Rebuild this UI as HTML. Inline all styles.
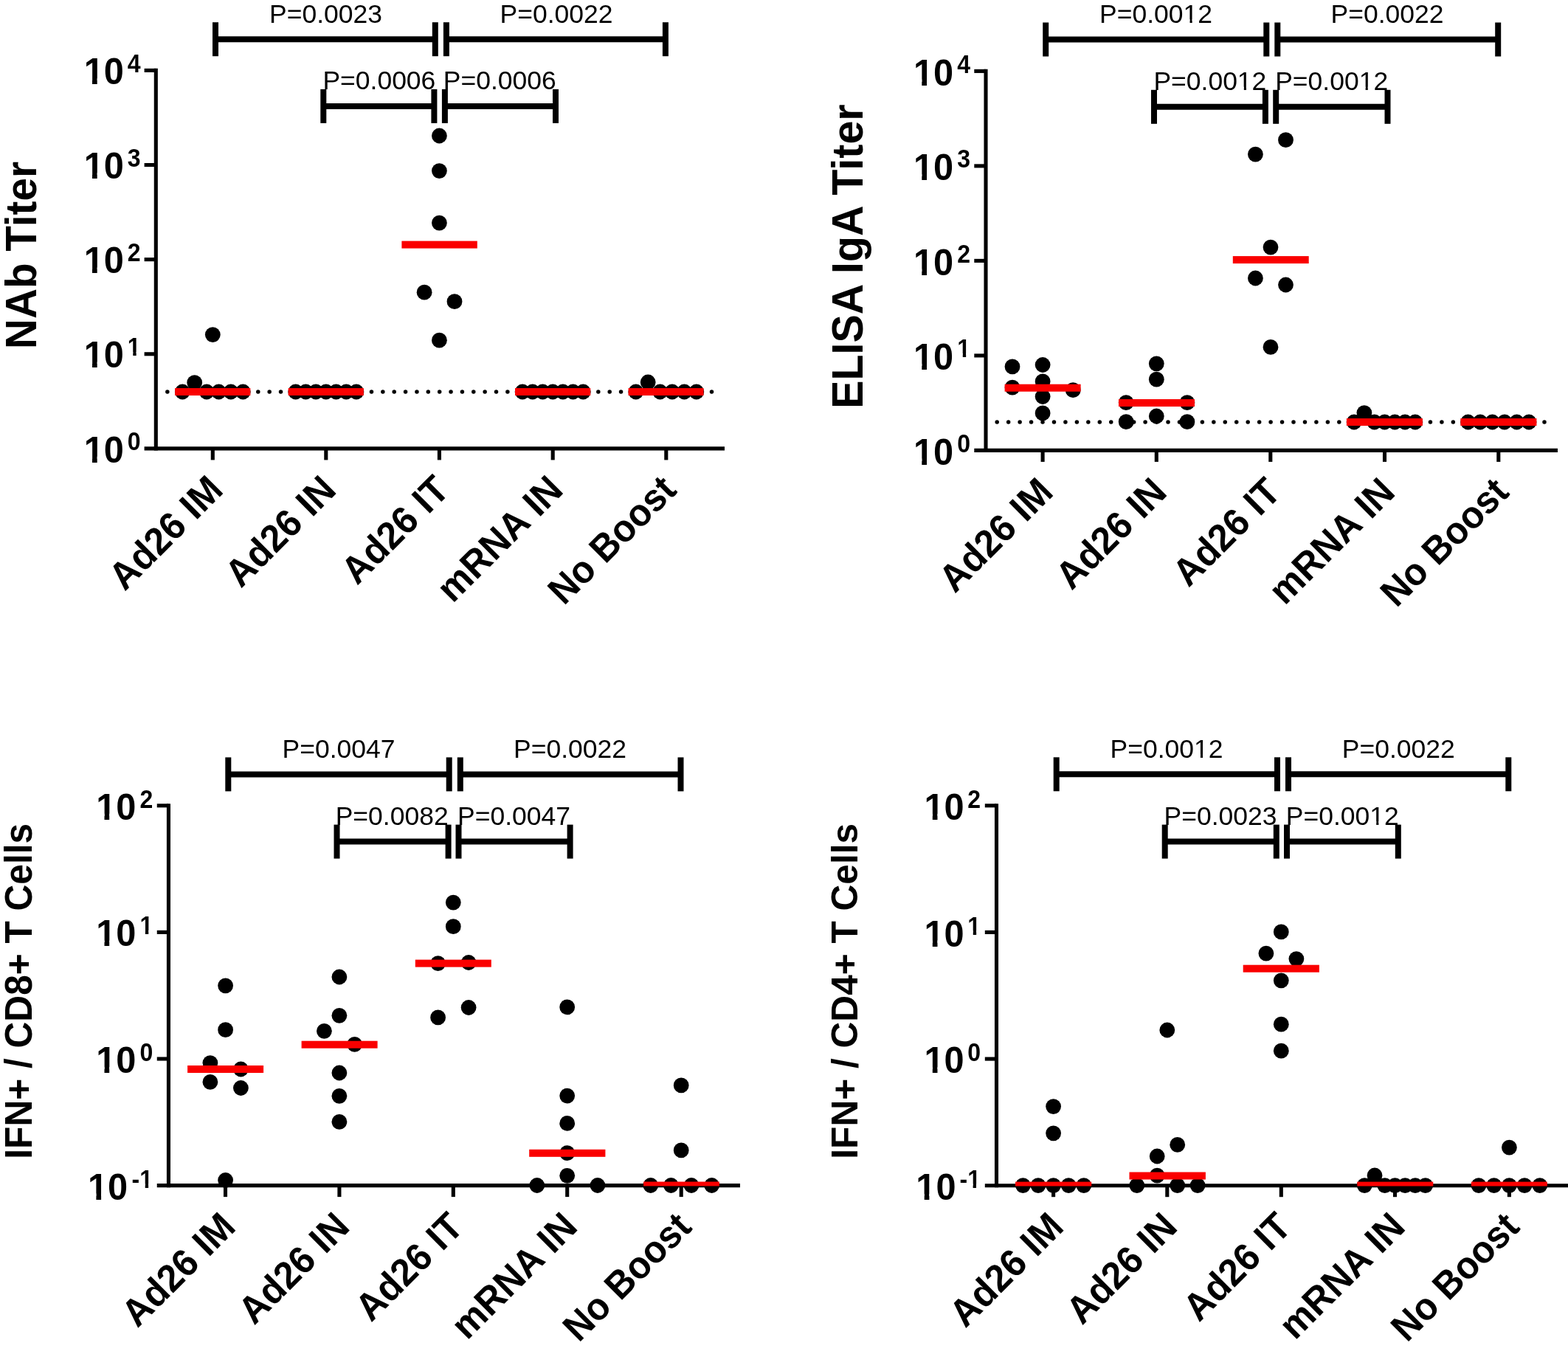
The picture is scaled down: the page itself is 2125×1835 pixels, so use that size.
<!DOCTYPE html>
<html lang="en">
<head>
<meta charset="utf-8">
<title>Figure</title>
<style>
html,body{margin:0;padding:0;background:#fff;}
body{width:2125px;height:1835px;overflow:hidden;}
svg{display:block;}
svg text{font-family:"Liberation Sans",sans-serif;fill:#000;}
</style>
</head>
<body>
<svg width="2125" height="1835" viewBox="0 0 2125 1835">
<rect width="2125" height="1835" fill="#fff"/>
<defs>
<clipPath id="c10"><path clip-rule="evenodd" d="M-584.4,-584.4H584.4V584.4H-584.4ZM-53.24,-7.59H-42.80V2.85H-53.24ZM-36.12,-7.59H-27.49V2.85H-36.12Z"/></clipPath>
<clipPath id="cs1"><path clip-rule="evenodd" d="M-384.0,-384.0H384.0V384.0H-384.0ZM0.61,-4.98H7.47V1.88H0.61ZM11.86,-4.98H17.53V1.88H11.86Z"/></clipPath>
<clipPath id="csm1"><path clip-rule="evenodd" d="M-384.0,-384.0H384.0V384.0H-384.0ZM11.27,-4.98H18.12V1.88H11.27ZM22.52,-4.98H28.19V1.88H22.52Z"/></clipPath>
<clipPath id="cp"><path clip-rule="evenodd" d="M-426.0,-426.0H426.0V426.0H-426.0ZM114.65,-4.56H122.43V2.08H114.65ZM125.57,-4.56H132.21V2.08H125.57Z"/></clipPath>
</defs>
<g>
<line x1="226.85" y1="531.00" x2="965.50" y2="531.00" stroke="#000" stroke-width="5.5" stroke-linecap="round" stroke-dasharray="0 15.3677"/>
<line x1="211.30" y1="92.85" x2="211.30" y2="610.45" stroke="#000" stroke-width="5.1"/>
<line x1="195.60" y1="607.90" x2="982.00" y2="607.90" stroke="#000" stroke-width="5.1"/>
<line x1="195.60" y1="95.40" x2="211.30" y2="95.40" stroke="#000" stroke-width="5.1"/>
<text transform="translate(167.80 114.10) scale(1.0000 1.0420)" font-size="48.7" font-weight="bold" text-anchor="end" clip-path="url(#c10)">10</text>
<text transform="translate(172.80 97.90) scale(1.0000 1.0740)" font-size="32" font-weight="bold">4</text>
<line x1="195.60" y1="223.53" x2="211.30" y2="223.53" stroke="#000" stroke-width="5.1"/>
<text transform="translate(167.80 242.22) scale(1.0000 1.0420)" font-size="48.7" font-weight="bold" text-anchor="end" clip-path="url(#c10)">10</text>
<text transform="translate(172.80 226.03) scale(1.0000 1.0740)" font-size="32" font-weight="bold">3</text>
<line x1="195.60" y1="351.65" x2="211.30" y2="351.65" stroke="#000" stroke-width="5.1"/>
<text transform="translate(167.80 370.35) scale(1.0000 1.0420)" font-size="48.7" font-weight="bold" text-anchor="end" clip-path="url(#c10)">10</text>
<text transform="translate(172.80 354.15) scale(1.0000 1.0740)" font-size="32" font-weight="bold">2</text>
<line x1="195.60" y1="479.77" x2="211.30" y2="479.77" stroke="#000" stroke-width="5.1"/>
<text transform="translate(167.80 498.47) scale(1.0000 1.0420)" font-size="48.7" font-weight="bold" text-anchor="end" clip-path="url(#c10)">10</text>
<text transform="translate(172.80 482.27) scale(1.0000 1.0740)" font-size="32" font-weight="bold" clip-path="url(#cs1)">1</text>
<text transform="translate(167.80 626.60) scale(1.0000 1.0420)" font-size="48.7" font-weight="bold" text-anchor="end" clip-path="url(#c10)">10</text>
<text transform="translate(172.80 610.40) scale(1.0000 1.0740)" font-size="32" font-weight="bold">0</text>
<line x1="288.30" y1="607.90" x2="288.30" y2="623.40" stroke="#000" stroke-width="5.1"/>
<line x1="441.80" y1="607.90" x2="441.80" y2="623.40" stroke="#000" stroke-width="5.1"/>
<line x1="595.40" y1="607.90" x2="595.40" y2="623.40" stroke="#000" stroke-width="5.1"/>
<line x1="749.20" y1="607.90" x2="749.20" y2="623.40" stroke="#000" stroke-width="5.1"/>
<line x1="902.80" y1="607.90" x2="902.80" y2="623.40" stroke="#000" stroke-width="5.1"/>
<circle cx="247.30" cy="531.00" r="10.4"/>
<circle cx="263.70" cy="518.60" r="10.4"/>
<circle cx="280.10" cy="531.00" r="10.4"/>
<circle cx="296.50" cy="531.00" r="10.4"/>
<circle cx="312.90" cy="531.00" r="10.4"/>
<circle cx="329.30" cy="531.00" r="10.4"/>
<circle cx="288.30" cy="453.60" r="10.4"/>
<circle cx="400.70" cy="531.00" r="10.4"/>
<circle cx="414.40" cy="531.00" r="10.4"/>
<circle cx="428.10" cy="531.00" r="10.4"/>
<circle cx="441.80" cy="531.00" r="10.4"/>
<circle cx="455.50" cy="531.00" r="10.4"/>
<circle cx="469.20" cy="531.00" r="10.4"/>
<circle cx="482.90" cy="531.00" r="10.4"/>
<circle cx="595.40" cy="184.00" r="10.4"/>
<circle cx="595.40" cy="231.60" r="10.4"/>
<circle cx="595.40" cy="302.10" r="10.4"/>
<circle cx="575.10" cy="396.20" r="10.4"/>
<circle cx="616.00" cy="408.70" r="10.4"/>
<circle cx="595.40" cy="461.20" r="10.4"/>
<circle cx="708.10" cy="531.00" r="10.4"/>
<circle cx="721.80" cy="531.00" r="10.4"/>
<circle cx="735.50" cy="531.00" r="10.4"/>
<circle cx="749.20" cy="531.00" r="10.4"/>
<circle cx="762.90" cy="531.00" r="10.4"/>
<circle cx="776.60" cy="531.00" r="10.4"/>
<circle cx="790.30" cy="531.00" r="10.4"/>
<circle cx="861.80" cy="531.00" r="10.4"/>
<circle cx="878.20" cy="518.00" r="10.4"/>
<circle cx="894.60" cy="531.00" r="10.4"/>
<circle cx="911.00" cy="531.00" r="10.4"/>
<circle cx="927.40" cy="531.00" r="10.4"/>
<circle cx="943.80" cy="531.00" r="10.4"/>
<rect x="237.10" y="526.00" width="102.20" height="10.00" fill="#fa0000"/>
<rect x="390.70" y="526.00" width="102.10" height="10.00" fill="#fa0000"/>
<rect x="544.40" y="326.60" width="102.40" height="10.00" fill="#fa0000"/>
<rect x="698.00" y="526.00" width="102.20" height="10.00" fill="#fa0000"/>
<rect x="851.60" y="526.00" width="101.90" height="10.00" fill="#fa0000"/>
<line x1="292.00" y1="53.20" x2="589.80" y2="53.20" stroke="#000" stroke-width="8"/>
<line x1="292.00" y1="30.20" x2="292.00" y2="76.20" stroke="#000" stroke-width="8"/>
<line x1="589.80" y1="30.20" x2="589.80" y2="76.20" stroke="#000" stroke-width="8"/>
<line x1="604.90" y1="53.20" x2="901.90" y2="53.20" stroke="#000" stroke-width="8"/>
<line x1="604.90" y1="30.20" x2="604.90" y2="76.20" stroke="#000" stroke-width="8"/>
<line x1="901.90" y1="30.20" x2="901.90" y2="76.20" stroke="#000" stroke-width="8"/>
<line x1="438.30" y1="143.90" x2="588.40" y2="143.90" stroke="#000" stroke-width="8"/>
<line x1="438.30" y1="120.90" x2="438.30" y2="166.90" stroke="#000" stroke-width="8"/>
<line x1="588.40" y1="120.90" x2="588.40" y2="166.90" stroke="#000" stroke-width="8"/>
<line x1="602.90" y1="143.90" x2="753.00" y2="143.90" stroke="#000" stroke-width="8"/>
<line x1="602.90" y1="120.90" x2="602.90" y2="166.90" stroke="#000" stroke-width="8"/>
<line x1="753.00" y1="120.90" x2="753.00" y2="166.90" stroke="#000" stroke-width="8"/>
<text transform="translate(365.00 30.50) scale(1.0000 1.0050)" font-size="35.5">P=0.0023</text>
<text transform="translate(677.50 30.50) scale(1.0000 1.0050)" font-size="35.5">P=0.0022</text>
<text transform="translate(437.40 121.40) scale(1.0000 1.0050)" font-size="35.5">P=0.0006</text>
<text transform="translate(600.80 121.40) scale(1.0000 1.0050)" font-size="35.5">P=0.0006</text>
<text transform="translate(304.60 666.60) rotate(-45) scale(1.0000 1.0400)" font-size="50" font-weight="bold" text-anchor="end">Ad26 IM</text>
<text transform="translate(458.10 666.60) rotate(-45) scale(1.0000 1.0400)" font-size="50" font-weight="bold" text-anchor="end">Ad26 IN</text>
<text transform="translate(611.70 666.60) rotate(-45) scale(1.0000 1.0400)" font-size="50" font-weight="bold" text-anchor="end">Ad26 IT</text>
<text transform="translate(765.50 666.60) rotate(-45) scale(1.0000 1.0400)" font-size="50" font-weight="bold" text-anchor="end">mRNA IN</text>
<text transform="translate(919.10 666.60) rotate(-45) scale(0.9860 1.0400)" font-size="50" font-weight="bold" text-anchor="end">No Boost</text>
<text transform="translate(48.80 346.00) rotate(-90) scale(0.9940 1.0390)" font-size="57" font-weight="bold" text-anchor="middle">NAb Titer</text>
</g>
<g>
<line x1="1351.20" y1="572.00" x2="2094.00" y2="572.00" stroke="#000" stroke-width="5.5" stroke-linecap="round" stroke-dasharray="0 15.4542"/>
<line x1="1336.00" y1="93.85" x2="1336.00" y2="612.95" stroke="#000" stroke-width="5.1"/>
<line x1="1320.30" y1="610.40" x2="2111.00" y2="610.40" stroke="#000" stroke-width="5.1"/>
<line x1="1320.30" y1="96.40" x2="1336.00" y2="96.40" stroke="#000" stroke-width="5.1"/>
<text transform="translate(1292.10 115.50) scale(1.0000 1.0420)" font-size="48.7" font-weight="bold" text-anchor="end" clip-path="url(#c10)">10</text>
<text transform="translate(1297.30 98.80) scale(1.0000 1.0740)" font-size="32" font-weight="bold">4</text>
<line x1="1320.30" y1="224.90" x2="1336.00" y2="224.90" stroke="#000" stroke-width="5.1"/>
<text transform="translate(1292.10 244.00) scale(1.0000 1.0420)" font-size="48.7" font-weight="bold" text-anchor="end" clip-path="url(#c10)">10</text>
<text transform="translate(1297.30 227.30) scale(1.0000 1.0740)" font-size="32" font-weight="bold">3</text>
<line x1="1320.30" y1="353.40" x2="1336.00" y2="353.40" stroke="#000" stroke-width="5.1"/>
<text transform="translate(1292.10 372.50) scale(1.0000 1.0420)" font-size="48.7" font-weight="bold" text-anchor="end" clip-path="url(#c10)">10</text>
<text transform="translate(1297.30 355.80) scale(1.0000 1.0740)" font-size="32" font-weight="bold">2</text>
<line x1="1320.30" y1="481.90" x2="1336.00" y2="481.90" stroke="#000" stroke-width="5.1"/>
<text transform="translate(1292.10 501.00) scale(1.0000 1.0420)" font-size="48.7" font-weight="bold" text-anchor="end" clip-path="url(#c10)">10</text>
<text transform="translate(1297.30 484.30) scale(1.0000 1.0740)" font-size="32" font-weight="bold" clip-path="url(#cs1)">1</text>
<text transform="translate(1292.10 629.50) scale(1.0000 1.0420)" font-size="48.7" font-weight="bold" text-anchor="end" clip-path="url(#c10)">10</text>
<text transform="translate(1297.30 612.80) scale(1.0000 1.0740)" font-size="32" font-weight="bold">0</text>
<line x1="1413.10" y1="610.40" x2="1413.10" y2="625.90" stroke="#000" stroke-width="5.1"/>
<line x1="1567.30" y1="610.40" x2="1567.30" y2="625.90" stroke="#000" stroke-width="5.1"/>
<line x1="1721.80" y1="610.40" x2="1721.80" y2="625.90" stroke="#000" stroke-width="5.1"/>
<line x1="1876.50" y1="610.40" x2="1876.50" y2="625.90" stroke="#000" stroke-width="5.1"/>
<line x1="2030.80" y1="610.40" x2="2030.80" y2="625.90" stroke="#000" stroke-width="5.1"/>
<circle cx="1372.00" cy="496.90" r="10.4"/>
<circle cx="1413.10" cy="494.50" r="10.4"/>
<circle cx="1413.10" cy="516.90" r="10.4"/>
<circle cx="1372.00" cy="525.10" r="10.4"/>
<circle cx="1454.20" cy="528.70" r="10.4"/>
<circle cx="1413.10" cy="537.50" r="10.4"/>
<circle cx="1413.10" cy="559.90" r="10.4"/>
<circle cx="1567.30" cy="492.80" r="10.4"/>
<circle cx="1567.30" cy="514.20" r="10.4"/>
<circle cx="1526.20" cy="545.70" r="10.4"/>
<circle cx="1608.90" cy="545.70" r="10.4"/>
<circle cx="1567.30" cy="564.00" r="10.4"/>
<circle cx="1526.20" cy="571.70" r="10.4"/>
<circle cx="1608.90" cy="571.70" r="10.4"/>
<circle cx="1742.50" cy="189.70" r="10.4"/>
<circle cx="1701.40" cy="209.10" r="10.4"/>
<circle cx="1722.00" cy="335.10" r="10.4"/>
<circle cx="1701.40" cy="377.00" r="10.4"/>
<circle cx="1742.50" cy="386.00" r="10.4"/>
<circle cx="1722.00" cy="470.40" r="10.4"/>
<circle cx="1835.10" cy="572.00" r="10.4"/>
<circle cx="1848.90" cy="559.60" r="10.4"/>
<circle cx="1862.70" cy="572.00" r="10.4"/>
<circle cx="1876.50" cy="572.00" r="10.4"/>
<circle cx="1890.30" cy="572.00" r="10.4"/>
<circle cx="1904.10" cy="572.00" r="10.4"/>
<circle cx="1917.90" cy="572.00" r="10.4"/>
<circle cx="1989.55" cy="572.00" r="10.4"/>
<circle cx="2006.05" cy="572.00" r="10.4"/>
<circle cx="2022.55" cy="572.00" r="10.4"/>
<circle cx="2039.05" cy="572.00" r="10.4"/>
<circle cx="2055.55" cy="572.00" r="10.4"/>
<circle cx="2072.05" cy="572.00" r="10.4"/>
<rect x="1361.60" y="520.70" width="103.00" height="10.00" fill="#fa0000"/>
<rect x="1516.00" y="541.00" width="103.00" height="10.00" fill="#fa0000"/>
<rect x="1670.80" y="347.10" width="102.90" height="10.00" fill="#fa0000"/>
<rect x="1824.90" y="567.00" width="103.00" height="10.00" fill="#fa0000"/>
<rect x="1979.40" y="567.00" width="103.00" height="10.00" fill="#fa0000"/>
<line x1="1417.20" y1="53.50" x2="1716.30" y2="53.50" stroke="#000" stroke-width="8"/>
<line x1="1417.20" y1="30.50" x2="1417.20" y2="76.50" stroke="#000" stroke-width="8"/>
<line x1="1716.30" y1="30.50" x2="1716.30" y2="76.50" stroke="#000" stroke-width="8"/>
<line x1="1731.30" y1="53.50" x2="2030.20" y2="53.50" stroke="#000" stroke-width="8"/>
<line x1="1731.30" y1="30.50" x2="1731.30" y2="76.50" stroke="#000" stroke-width="8"/>
<line x1="2030.20" y1="30.50" x2="2030.20" y2="76.50" stroke="#000" stroke-width="8"/>
<line x1="1564.00" y1="144.80" x2="1714.90" y2="144.80" stroke="#000" stroke-width="8"/>
<line x1="1564.00" y1="121.80" x2="1564.00" y2="167.80" stroke="#000" stroke-width="8"/>
<line x1="1714.90" y1="121.80" x2="1714.90" y2="167.80" stroke="#000" stroke-width="8"/>
<line x1="1729.20" y1="144.80" x2="1880.50" y2="144.80" stroke="#000" stroke-width="8"/>
<line x1="1729.20" y1="121.80" x2="1729.20" y2="167.80" stroke="#000" stroke-width="8"/>
<line x1="1880.50" y1="121.80" x2="1880.50" y2="167.80" stroke="#000" stroke-width="8"/>
<text transform="translate(1490.10 30.80) scale(1.0000 1.0050)" font-size="35.5" clip-path="url(#cp)">P=0.0012</text>
<text transform="translate(1803.60 30.80) scale(1.0000 1.0050)" font-size="35.5">P=0.0022</text>
<text transform="translate(1563.40 122.40) scale(1.0000 1.0050)" font-size="35.5" clip-path="url(#cp)">P=0.0012</text>
<text transform="translate(1728.20 122.40) scale(1.0000 1.0050)" font-size="35.5" clip-path="url(#cp)">P=0.0012</text>
<text transform="translate(1429.60 669.60) rotate(-45) scale(1.0000 1.0400)" font-size="50" font-weight="bold" text-anchor="end">Ad26 IM</text>
<text transform="translate(1583.80 669.60) rotate(-45) scale(1.0000 1.0400)" font-size="50" font-weight="bold" text-anchor="end">Ad26 IN</text>
<text transform="translate(1738.30 669.60) rotate(-45) scale(1.0000 1.0400)" font-size="50" font-weight="bold" text-anchor="end">Ad26 IT</text>
<text transform="translate(1893.00 669.60) rotate(-45) scale(1.0000 1.0400)" font-size="50" font-weight="bold" text-anchor="end">mRNA IN</text>
<text transform="translate(2047.30 669.60) rotate(-45) scale(0.9860 1.0400)" font-size="50" font-weight="bold" text-anchor="end">No Boost</text>
<text transform="translate(1168.70 347.60) rotate(-90) scale(1.0070 1.0280)" font-size="57" font-weight="bold" text-anchor="middle">ELISA IgA Titer</text>
</g>
<g>
<line x1="228.45" y1="1089.25" x2="228.45" y2="1609.15" stroke="#000" stroke-width="5.1"/>
<line x1="212.75" y1="1606.60" x2="1003.00" y2="1606.60" stroke="#000" stroke-width="5.1"/>
<line x1="212.75" y1="1091.80" x2="228.45" y2="1091.80" stroke="#000" stroke-width="5.1"/>
<text transform="translate(184.30 1110.70) scale(1.0000 1.0420)" font-size="48.7" font-weight="bold" text-anchor="end" clip-path="url(#c10)">10</text>
<text transform="translate(189.40 1094.80) scale(1.0000 1.0740)" font-size="32" font-weight="bold">2</text>
<line x1="212.75" y1="1263.40" x2="228.45" y2="1263.40" stroke="#000" stroke-width="5.1"/>
<text transform="translate(184.30 1282.30) scale(1.0000 1.0420)" font-size="48.7" font-weight="bold" text-anchor="end" clip-path="url(#c10)">10</text>
<text transform="translate(189.40 1266.40) scale(1.0000 1.0740)" font-size="32" font-weight="bold" clip-path="url(#cs1)">1</text>
<line x1="212.75" y1="1435.00" x2="228.45" y2="1435.00" stroke="#000" stroke-width="5.1"/>
<text transform="translate(184.30 1453.90) scale(1.0000 1.0420)" font-size="48.7" font-weight="bold" text-anchor="end" clip-path="url(#c10)">10</text>
<text transform="translate(189.40 1438.00) scale(1.0000 1.0740)" font-size="32" font-weight="bold">0</text>
<text transform="translate(173.20 1625.50) scale(1.0000 1.0420)" font-size="48.7" font-weight="bold" text-anchor="end" clip-path="url(#c10)">10</text>
<text transform="translate(178.60 1609.60) scale(1.0000 1.0740)" font-size="32" font-weight="bold" clip-path="url(#csm1)">-1</text>
<line x1="305.50" y1="1606.60" x2="305.50" y2="1622.10" stroke="#000" stroke-width="5.1"/>
<line x1="459.90" y1="1606.60" x2="459.90" y2="1622.10" stroke="#000" stroke-width="5.1"/>
<line x1="614.30" y1="1606.60" x2="614.30" y2="1622.10" stroke="#000" stroke-width="5.1"/>
<line x1="768.70" y1="1606.60" x2="768.70" y2="1622.10" stroke="#000" stroke-width="5.1"/>
<line x1="923.20" y1="1606.60" x2="923.20" y2="1622.10" stroke="#000" stroke-width="5.1"/>
<circle cx="305.60" cy="1335.80" r="10.4"/>
<circle cx="305.60" cy="1395.70" r="10.4"/>
<circle cx="284.90" cy="1440.60" r="10.4"/>
<circle cx="326.40" cy="1449.00" r="10.4"/>
<circle cx="284.90" cy="1466.40" r="10.4"/>
<circle cx="326.40" cy="1474.50" r="10.4"/>
<circle cx="305.60" cy="1599.50" r="10.4"/>
<circle cx="459.90" cy="1324.00" r="10.4"/>
<circle cx="459.90" cy="1376.30" r="10.4"/>
<circle cx="439.40" cy="1397.30" r="10.4"/>
<circle cx="480.60" cy="1415.40" r="10.4"/>
<circle cx="459.90" cy="1454.00" r="10.4"/>
<circle cx="459.90" cy="1485.30" r="10.4"/>
<circle cx="459.90" cy="1520.30" r="10.4"/>
<circle cx="614.30" cy="1223.10" r="10.4"/>
<circle cx="614.30" cy="1255.70" r="10.4"/>
<circle cx="593.60" cy="1305.60" r="10.4"/>
<circle cx="635.10" cy="1304.50" r="10.4"/>
<circle cx="635.10" cy="1365.50" r="10.4"/>
<circle cx="593.60" cy="1378.90" r="10.4"/>
<circle cx="768.70" cy="1364.90" r="10.4"/>
<circle cx="768.70" cy="1485.10" r="10.4"/>
<circle cx="768.70" cy="1522.40" r="10.4"/>
<circle cx="768.70" cy="1562.70" r="10.4"/>
<circle cx="768.70" cy="1593.30" r="10.4"/>
<circle cx="727.80" cy="1606.50" r="10.4"/>
<circle cx="809.90" cy="1606.50" r="10.4"/>
<circle cx="923.20" cy="1470.90" r="10.4"/>
<circle cx="923.20" cy="1558.90" r="10.4"/>
<circle cx="881.80" cy="1606.50" r="10.4"/>
<circle cx="909.40" cy="1606.50" r="10.4"/>
<circle cx="937.00" cy="1606.50" r="10.4"/>
<circle cx="964.60" cy="1606.50" r="10.4"/>
<rect x="254.10" y="1444.00" width="103.00" height="10.00" fill="#fa0000"/>
<rect x="408.60" y="1410.70" width="103.00" height="10.00" fill="#fa0000"/>
<rect x="562.80" y="1300.60" width="103.00" height="10.00" fill="#fa0000"/>
<rect x="717.20" y="1557.80" width="103.20" height="10.00" fill="#fa0000"/>
<rect x="872.10" y="1601.50" width="102.80" height="5.90" fill="#fa0000"/>
<line x1="309.30" y1="1049.40" x2="608.70" y2="1049.40" stroke="#000" stroke-width="8"/>
<line x1="309.30" y1="1026.40" x2="309.30" y2="1072.40" stroke="#000" stroke-width="8"/>
<line x1="608.70" y1="1026.40" x2="608.70" y2="1072.40" stroke="#000" stroke-width="8"/>
<line x1="623.80" y1="1049.40" x2="922.50" y2="1049.40" stroke="#000" stroke-width="8"/>
<line x1="623.80" y1="1026.40" x2="623.80" y2="1072.40" stroke="#000" stroke-width="8"/>
<line x1="922.50" y1="1026.40" x2="922.50" y2="1072.40" stroke="#000" stroke-width="8"/>
<line x1="456.50" y1="1140.60" x2="607.60" y2="1140.60" stroke="#000" stroke-width="8"/>
<line x1="456.50" y1="1117.60" x2="456.50" y2="1163.60" stroke="#000" stroke-width="8"/>
<line x1="607.60" y1="1117.60" x2="607.60" y2="1163.60" stroke="#000" stroke-width="8"/>
<line x1="621.50" y1="1140.60" x2="772.60" y2="1140.60" stroke="#000" stroke-width="8"/>
<line x1="621.50" y1="1117.60" x2="621.50" y2="1163.60" stroke="#000" stroke-width="8"/>
<line x1="772.60" y1="1117.60" x2="772.60" y2="1163.60" stroke="#000" stroke-width="8"/>
<text transform="translate(382.60 1026.60) scale(1.0000 1.0050)" font-size="35.5">P=0.0047</text>
<text transform="translate(696.00 1026.60) scale(1.0000 1.0050)" font-size="35.5">P=0.0022</text>
<text transform="translate(454.70 1117.60) scale(1.0000 1.0050)" font-size="35.5">P=0.0082</text>
<text transform="translate(620.00 1117.60) scale(1.0000 1.0050)" font-size="35.5">P=0.0047</text>
<text transform="translate(321.80 1665.30) rotate(-45) scale(1.0000 1.0400)" font-size="50" font-weight="bold" text-anchor="end">Ad26 IM</text>
<text transform="translate(476.20 1665.30) rotate(-45) scale(1.0000 1.0400)" font-size="50" font-weight="bold" text-anchor="end">Ad26 IN</text>
<text transform="translate(630.60 1665.30) rotate(-45) scale(1.0000 1.0400)" font-size="50" font-weight="bold" text-anchor="end">Ad26 IT</text>
<text transform="translate(785.00 1665.30) rotate(-45) scale(1.0000 1.0400)" font-size="50" font-weight="bold" text-anchor="end">mRNA IN</text>
<text transform="translate(939.50 1665.30) rotate(-45) scale(0.9860 1.0400)" font-size="50" font-weight="bold" text-anchor="end">No Boost</text>
<text transform="translate(42.80 1343.30) rotate(-90) scale(1.0000 1.0400)" font-size="49.6" font-weight="bold" text-anchor="middle">IFN+ / CD8+ T Cells</text>
</g>
<g>
<line x1="1350.50" y1="1089.25" x2="1350.50" y2="1609.25" stroke="#000" stroke-width="5.1"/>
<line x1="1334.80" y1="1606.70" x2="2125.00" y2="1606.70" stroke="#000" stroke-width="5.1"/>
<line x1="1334.80" y1="1091.80" x2="1350.50" y2="1091.80" stroke="#000" stroke-width="5.1"/>
<text transform="translate(1306.60 1110.90) scale(1.0000 1.0420)" font-size="48.7" font-weight="bold" text-anchor="end" clip-path="url(#c10)">10</text>
<text transform="translate(1311.30 1095.00) scale(1.0000 1.0740)" font-size="32" font-weight="bold">2</text>
<line x1="1334.80" y1="1263.43" x2="1350.50" y2="1263.43" stroke="#000" stroke-width="5.1"/>
<text transform="translate(1306.60 1282.53) scale(1.0000 1.0420)" font-size="48.7" font-weight="bold" text-anchor="end" clip-path="url(#c10)">10</text>
<text transform="translate(1311.30 1266.63) scale(1.0000 1.0740)" font-size="32" font-weight="bold" clip-path="url(#cs1)">1</text>
<line x1="1334.80" y1="1435.07" x2="1350.50" y2="1435.07" stroke="#000" stroke-width="5.1"/>
<text transform="translate(1306.60 1454.17) scale(1.0000 1.0420)" font-size="48.7" font-weight="bold" text-anchor="end" clip-path="url(#c10)">10</text>
<text transform="translate(1311.30 1438.27) scale(1.0000 1.0740)" font-size="32" font-weight="bold">0</text>
<text transform="translate(1295.50 1625.80) scale(1.0000 1.0420)" font-size="48.7" font-weight="bold" text-anchor="end" clip-path="url(#c10)">10</text>
<text transform="translate(1300.50 1609.90) scale(1.0000 1.0740)" font-size="32" font-weight="bold" clip-path="url(#csm1)">-1</text>
<line x1="1427.60" y1="1606.70" x2="1427.60" y2="1622.20" stroke="#000" stroke-width="5.1"/>
<line x1="1581.80" y1="1606.70" x2="1581.80" y2="1622.20" stroke="#000" stroke-width="5.1"/>
<line x1="1736.30" y1="1606.70" x2="1736.30" y2="1622.20" stroke="#000" stroke-width="5.1"/>
<line x1="1890.50" y1="1606.70" x2="1890.50" y2="1622.20" stroke="#000" stroke-width="5.1"/>
<line x1="2045.40" y1="1606.70" x2="2045.40" y2="1622.20" stroke="#000" stroke-width="5.1"/>
<circle cx="1427.60" cy="1499.60" r="10.4"/>
<circle cx="1427.60" cy="1535.80" r="10.4"/>
<circle cx="1386.40" cy="1606.60" r="10.4"/>
<circle cx="1407.00" cy="1606.60" r="10.4"/>
<circle cx="1427.60" cy="1606.60" r="10.4"/>
<circle cx="1448.20" cy="1606.60" r="10.4"/>
<circle cx="1468.80" cy="1606.60" r="10.4"/>
<circle cx="1581.80" cy="1396.00" r="10.4"/>
<circle cx="1595.70" cy="1551.40" r="10.4"/>
<circle cx="1568.20" cy="1567.00" r="10.4"/>
<circle cx="1568.20" cy="1593.20" r="10.4"/>
<circle cx="1540.80" cy="1606.60" r="10.4"/>
<circle cx="1595.70" cy="1606.60" r="10.4"/>
<circle cx="1623.10" cy="1606.60" r="10.4"/>
<circle cx="1736.30" cy="1262.90" r="10.4"/>
<circle cx="1715.90" cy="1292.10" r="10.4"/>
<circle cx="1756.90" cy="1299.60" r="10.4"/>
<circle cx="1736.30" cy="1328.80" r="10.4"/>
<circle cx="1736.30" cy="1388.20" r="10.4"/>
<circle cx="1736.30" cy="1424.20" r="10.4"/>
<circle cx="1849.28" cy="1606.60" r="10.4"/>
<circle cx="1863.02" cy="1593.00" r="10.4"/>
<circle cx="1876.76" cy="1606.60" r="10.4"/>
<circle cx="1890.50" cy="1606.60" r="10.4"/>
<circle cx="1904.24" cy="1606.60" r="10.4"/>
<circle cx="1917.98" cy="1606.60" r="10.4"/>
<circle cx="1931.72" cy="1606.60" r="10.4"/>
<circle cx="2045.40" cy="1555.10" r="10.4"/>
<circle cx="2004.00" cy="1606.60" r="10.4"/>
<circle cx="2024.70" cy="1606.60" r="10.4"/>
<circle cx="2045.40" cy="1606.60" r="10.4"/>
<circle cx="2066.10" cy="1606.60" r="10.4"/>
<circle cx="2086.80" cy="1606.60" r="10.4"/>
<rect x="1376.00" y="1601.60" width="103.20" height="5.90" fill="#fa0000"/>
<rect x="1530.50" y="1588.50" width="103.40" height="10.00" fill="#fa0000"/>
<rect x="1684.70" y="1307.70" width="103.20" height="10.00" fill="#fa0000"/>
<rect x="1839.30" y="1601.60" width="103.00" height="5.90" fill="#fa0000"/>
<rect x="1993.90" y="1601.60" width="102.90" height="5.90" fill="#fa0000"/>
<line x1="1431.70" y1="1049.30" x2="1731.00" y2="1049.30" stroke="#000" stroke-width="8"/>
<line x1="1431.70" y1="1026.30" x2="1431.70" y2="1072.30" stroke="#000" stroke-width="8"/>
<line x1="1731.00" y1="1026.30" x2="1731.00" y2="1072.30" stroke="#000" stroke-width="8"/>
<line x1="1746.00" y1="1049.30" x2="2044.30" y2="1049.30" stroke="#000" stroke-width="8"/>
<line x1="1746.00" y1="1026.30" x2="1746.00" y2="1072.30" stroke="#000" stroke-width="8"/>
<line x1="2044.30" y1="1026.30" x2="2044.30" y2="1072.30" stroke="#000" stroke-width="8"/>
<line x1="1578.70" y1="1140.60" x2="1729.80" y2="1140.60" stroke="#000" stroke-width="8"/>
<line x1="1578.70" y1="1117.60" x2="1578.70" y2="1163.60" stroke="#000" stroke-width="8"/>
<line x1="1729.80" y1="1117.60" x2="1729.80" y2="1163.60" stroke="#000" stroke-width="8"/>
<line x1="1744.00" y1="1140.60" x2="1894.80" y2="1140.60" stroke="#000" stroke-width="8"/>
<line x1="1744.00" y1="1117.60" x2="1744.00" y2="1163.60" stroke="#000" stroke-width="8"/>
<line x1="1894.80" y1="1117.60" x2="1894.80" y2="1163.60" stroke="#000" stroke-width="8"/>
<text transform="translate(1504.50 1026.60) scale(1.0000 1.0050)" font-size="35.5" clip-path="url(#cp)">P=0.0012</text>
<text transform="translate(1818.80 1026.60) scale(1.0000 1.0050)" font-size="35.5">P=0.0022</text>
<text transform="translate(1577.50 1117.60) scale(1.0000 1.0050)" font-size="35.5">P=0.0023</text>
<text transform="translate(1742.80 1117.60) scale(1.0000 1.0050)" font-size="35.5" clip-path="url(#cp)">P=0.0012</text>
<text transform="translate(1443.90 1665.40) rotate(-45) scale(1.0000 1.0400)" font-size="50" font-weight="bold" text-anchor="end">Ad26 IM</text>
<text transform="translate(1598.10 1665.40) rotate(-45) scale(1.0000 1.0400)" font-size="50" font-weight="bold" text-anchor="end">Ad26 IN</text>
<text transform="translate(1752.60 1665.40) rotate(-45) scale(1.0000 1.0400)" font-size="50" font-weight="bold" text-anchor="end">Ad26 IT</text>
<text transform="translate(1906.80 1665.40) rotate(-45) scale(1.0000 1.0400)" font-size="50" font-weight="bold" text-anchor="end">mRNA IN</text>
<text transform="translate(2061.70 1665.40) rotate(-45) scale(0.9860 1.0400)" font-size="50" font-weight="bold" text-anchor="end">No Boost</text>
<text transform="translate(1162.00 1343.30) rotate(-90) scale(1.0000 1.0250)" font-size="49.6" font-weight="bold" text-anchor="middle">IFN+ / CD4+ T Cells</text>
</g>
</svg>
</body>
</html>
